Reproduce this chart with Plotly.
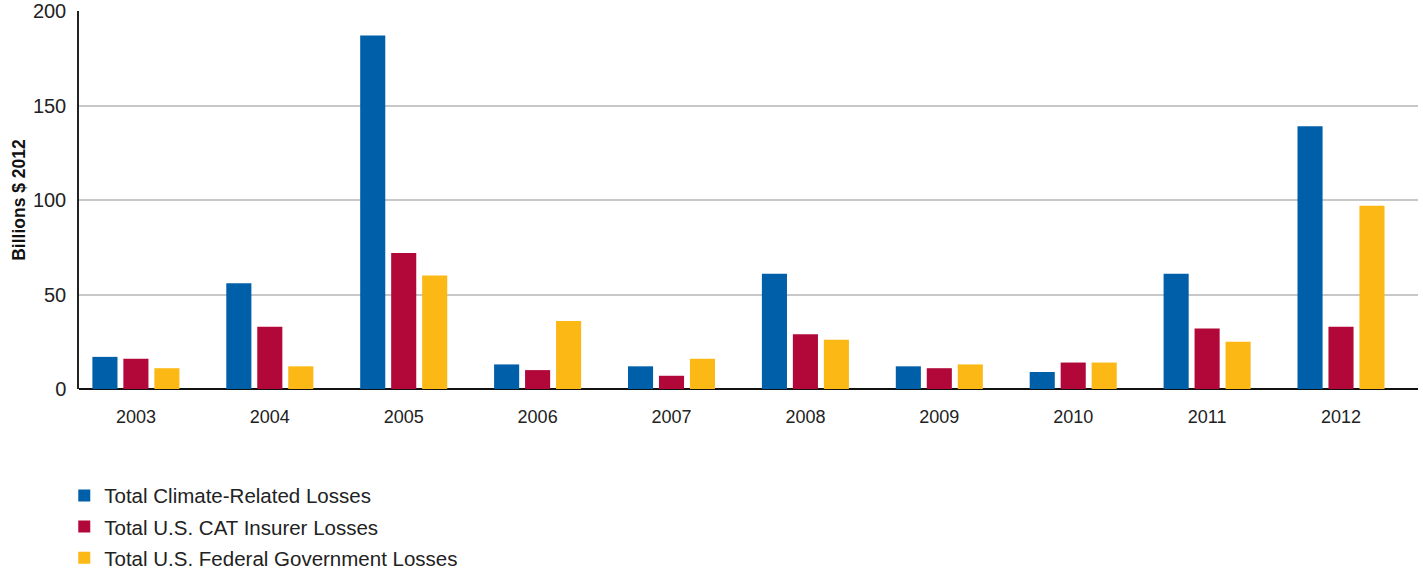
import plotly.graph_objects as go

years = ["2003", "2004", "2005", "2006", "2007", "2008", "2009", "2010", "2011", "2012"]
climate_losses = [17, 56, 187, 13, 12, 61, 12, 9, 61, 139]
cat_insurer_losses = [16, 33, 72, 10, 7, 29, 11, 14, 32, 33]
federal_losses = [11, 12, 60, 36, 16, 26, 13, 14, 25, 97]

series_names = ["Total Climate-Related Losses", "Total U.S. CAT Insurer Losses",
                "Total U.S. Federal Government Losses"]
series_values = [climate_losses, cat_insurer_losses, federal_losses]
colors = ["#005FA9", "#B10839", "#FCB814"]

y_ticks = [0, 50, 100, 150, 200]

fig = go.Figure()
for i, (name, vals, col) in enumerate(zip(series_names, series_values, colors)):
    fig.add_trace(go.Bar(x=years, y=vals, name=name, marker_color=col,
                         marker_line_width=0, legendgroup=f"g{i}"))

fig.update_layout(
    width=1423, height=573,
    margin=dict(l=79, r=5, t=11, b=184, autoexpand=False),
    paper_bgcolor="white", plot_bgcolor="white",
    barmode="group", bargap=0.306, bargroupgap=0.19,
    font=dict(family="Liberation Sans, Arial, sans-serif", color="#222222"),
    showlegend=True,
    legend=dict(x=-0.011, xanchor="left", y=-0.229, yanchor="top",
                font=dict(size=20.5, color="#222222"), tracegroupgap=1.5,
                itemwidth=30, bgcolor="rgba(0,0,0,0)"),
    xaxis=dict(showgrid=False, showline=False, ticks="",
               range=[-0.425, 9.575],
               tickfont=dict(size=18, color="#222222"), ticklabelstandoff=15,
               fixedrange=True),
    yaxis=dict(range=[0, 200], tickvals=y_ticks, ticktext=[str(v) for v in y_ticks],
               showgrid=True, gridcolor="#C8C8C8", gridwidth=1.5,
               zeroline=True, zerolinecolor="#111111", zerolinewidth=2,
               showline=True, linecolor="#222222", linewidth=1.5,
               tickfont=dict(size=20, color="#222222"), ticklabelstandoff=7,
               title=dict(text="<b>Billions $ 2012</b>", font=dict(size=17.5, color="#111111"),
                          standoff=3)),
)

fig.write_html("out.html")
